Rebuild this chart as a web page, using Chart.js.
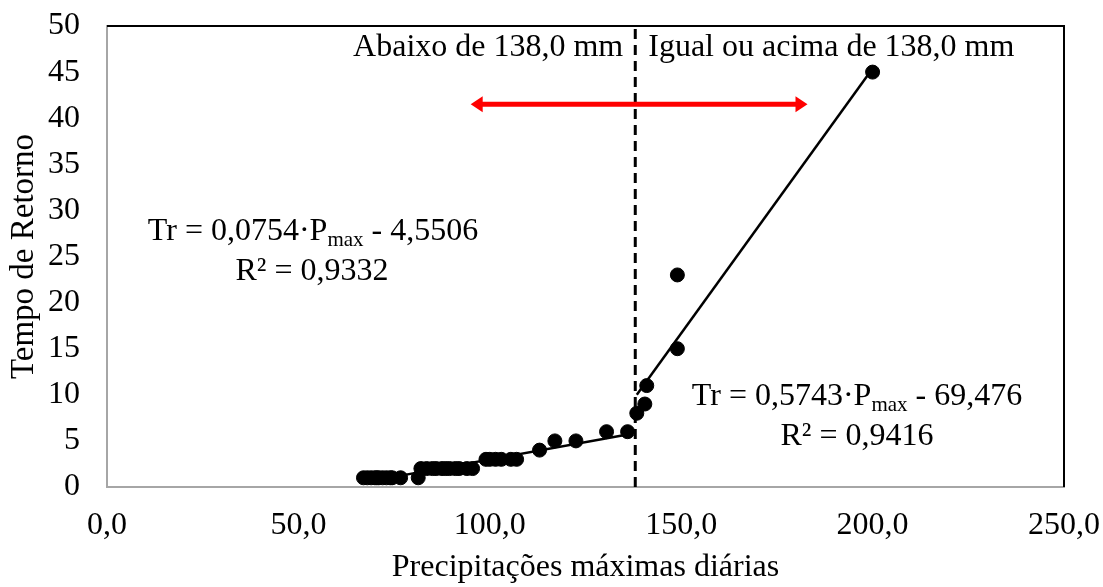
<!DOCTYPE html>
<html>
<head>
<meta charset="utf-8">
<script src="https://cdn.jsdelivr.net/npm/chart.js@4.4.1/dist/chart.umd.min.js"></script>
<style>
  html, body { margin: 0; padding: 0; background: #fff; }
  #wrap { width: 1103px; height: 587px; }
</style>
</head>
<body>
<div id="wrap"><canvas id="chart" width="1103" height="587"></canvas></div>
<script>
// Points below 138,0 mm
const precipLow = [67, 68, 69, 70, 70.5, 71, 72, 73, 74, 74.5, 76.7, 81.3,
  82, 83.5, 85, 86, 87.5, 88.5, 89.5, 91, 92, 94, 95.5,
  99, 100, 101.5, 103, 105.5, 107,
  113, 117, 122.5, 130.5, 136];
const trLow = [1, 1, 1, 1, 1, 1, 1, 1, 1, 1, 1, 1,
  2, 2, 2, 2, 2, 2, 2, 2, 2, 2, 2,
  3, 3, 3, 3, 3, 3,
  4, 5, 5, 6, 6];

// Points equal or above 138,0 mm
const precipHigh = [138.4, 140.5, 141, 149, 149, 200];
const trHigh = [8, 9, 11, 15, 23, 45];

// Trend lines (coefficients from the equations on the chart)
const fitLow = { a: 0.0754, b: -4.5506, from: 67, to: 136 };
const fitHigh = { a: 0.5743, b: -69.476, from: 138.4, to: 200 };

const threshold = 138;
const arrowRange = [95, 183];
const arrowLevel = 41.5;

const xTicks = [0, 50, 100, 150, 200, 250];
const yTicks = [0, 5, 10, 15, 20, 25, 30, 35, 40, 45, 50];

const FONT = "'Liberation Serif', 'Times New Roman', serif";
const SIZE = 32;

const toPoints = (xs, ys) => xs.map((v, i) => ({ x: v, y: ys[i] }));
const fitLine = f => [
  { x: f.from, y: f.a * f.from + f.b },
  { x: f.to, y: f.a * f.to + f.b },
];

// Arrow, frame and text annotations
const annotations = {
  id: 'annotations',
  afterDatasetsDraw(chart) {
    const { ctx, chartArea: ca, scales: { x, y } } = chart;
    ctx.save();

    // plot frame top / right
    ctx.strokeStyle = '#000';
    ctx.lineWidth = 2;
    ctx.beginPath();
    ctx.moveTo(ca.left, ca.top);
    ctx.lineTo(ca.right, ca.top);
    ctx.lineTo(ca.right, ca.bottom);
    ctx.stroke();

    // double red arrow
    const x1 = x.getPixelForValue(arrowRange[0]);
    const x2 = x.getPixelForValue(arrowRange[1]);
    const ay = y.getPixelForValue(arrowLevel);
    const head = 12, half = 8;
    ctx.strokeStyle = '#ff0000';
    ctx.fillStyle = '#ff0000';
    ctx.lineWidth = 5;
    ctx.beginPath();
    ctx.moveTo(x1 + head - 1, ay);
    ctx.lineTo(x2 - head + 1, ay);
    ctx.stroke();
    ctx.beginPath();
    ctx.moveTo(x1, ay);
    ctx.lineTo(x1 + head, ay - half);
    ctx.lineTo(x1 + head, ay + half);
    ctx.closePath();
    ctx.fill();
    ctx.beginPath();
    ctx.moveTo(x2, ay);
    ctx.lineTo(x2 - head, ay - half);
    ctx.lineTo(x2 - head, ay + half);
    ctx.closePath();
    ctx.fill();

    // texts
    ctx.fillStyle = '#000';
    ctx.font = SIZE + 'px ' + FONT;
    ctx.textBaseline = 'alphabetic';
    const tx = x.getPixelForValue(threshold);
    ctx.textAlign = 'right';
    ctx.fillText('Abaixo de 138,0 mm', tx - 12, 56);
    ctx.textAlign = 'left';
    ctx.fillText('Igual ou acima de 138,0 mm', tx + 13, 56);

    drawEquation(ctx, 'Tr = 0,0754·P', ' - 4,5506', 313, 240);
    ctx.textAlign = 'center';
    ctx.font = SIZE + 'px ' + FONT;
    ctx.fillText('R² = 0,9332', 312, 280);

    drawEquation(ctx, 'Tr = 0,5743·P', ' - 69,476', 857, 405);
    ctx.textAlign = 'center';
    ctx.font = SIZE + 'px ' + FONT;
    ctx.fillText('R² = 0,9416', 857, 445);

    ctx.restore();
  }
};

function drawEquation(ctx, left, right, cx, base) {
  const big = SIZE + 'px ' + FONT, small = '21px ' + FONT;
  ctx.font = big;
  const w1 = ctx.measureText(left).width;
  const w3 = ctx.measureText(right).width;
  ctx.font = small;
  const w2 = ctx.measureText('max').width;
  let sx = cx - (w1 + w2 + w3) / 2;
  ctx.textAlign = 'left';
  ctx.font = big;
  ctx.fillText(left, sx, base);
  ctx.font = small;
  ctx.fillText('max', sx + w1, base + 6);
  ctx.font = big;
  ctx.fillText(right, sx + w1 + w2, base);
}

new Chart(document.getElementById('chart'), {
  type: 'scatter',
  data: {
    datasets: [
      {
        data: toPoints(precipHigh, trHigh),
        backgroundColor: '#000', borderColor: '#000',
        pointRadius: 7, pointHoverRadius: 7,
      },
      {
        data: toPoints(precipLow, trLow),
        backgroundColor: '#000', borderColor: '#000',
        pointRadius: 7, pointHoverRadius: 7,
      },
      {
        type: 'line', data: fitLine(fitLow),
        borderColor: '#000', borderWidth: 2.5, pointRadius: 0, fill: false,
      },
      {
        type: 'line', data: fitLine(fitHigh),
        borderColor: '#000', borderWidth: 2.5, pointRadius: 0, fill: false,
      },
      {
        type: 'line', data: [{ x: threshold, y: 0 }, { x: threshold, y: 50 }],
        borderColor: '#000', borderWidth: 3, borderDash: [10, 6],
        pointRadius: 0, fill: false,
      },
    ],
  },
  options: {
    responsive: false,
    animation: false,
    layout: { padding: { top: 26, right: 39, left: 0, bottom: 0 } },
    plugins: { legend: { display: false }, tooltip: { enabled: false } },
    scales: {
      x: {
        type: 'linear', min: 0, max: 250,
        afterFit: s => {
          s.height = 100;
          s.paddingLeft = 0; s.paddingRight = 0;
        },
        afterBuildTicks: s => { s.ticks = xTicks.map(v => ({ value: v })); },
        grid: { display: false, drawTicks: false },
        border: { display: true, color: '#a6a6a6', width: 2 },
        ticks: {
          padding: 19, color: '#000',
          font: { family: FONT, size: SIZE, lineHeight: 1.2 },
          callback: v => v.toFixed(1).replace('.', ','),
        },
        title: {
          display: true, text: 'Precipitações máximas diárias', color: '#000',
          font: { family: FONT, size: SIZE, lineHeight: 1.2 },
          padding: { top: 0, bottom: 0 },
        },
      },
      y: {
        type: 'linear', min: 0, max: 50,
        afterFit: s => {
          s.width = 107;
          s.paddingTop = 0; s.paddingBottom = 0;
        },
        afterBuildTicks: s => { s.ticks = yTicks.map(v => ({ value: v })); },
        grid: { display: false, drawTicks: false },
        border: { display: true, color: '#a6a6a6', width: 2 },
        ticks: {
          padding: 27, color: '#000',
          font: { family: FONT, size: SIZE, lineHeight: 1.2 },
        },
        title: {
          display: true, text: 'Tempo de Retorno', color: '#000',
          font: { family: FONT, size: 33, lineHeight: 1.2 },
          padding: { top: 5, bottom: 0 },
        },
      },
    },
  },
  plugins: [annotations],
});
</script>
</body>
</html>
